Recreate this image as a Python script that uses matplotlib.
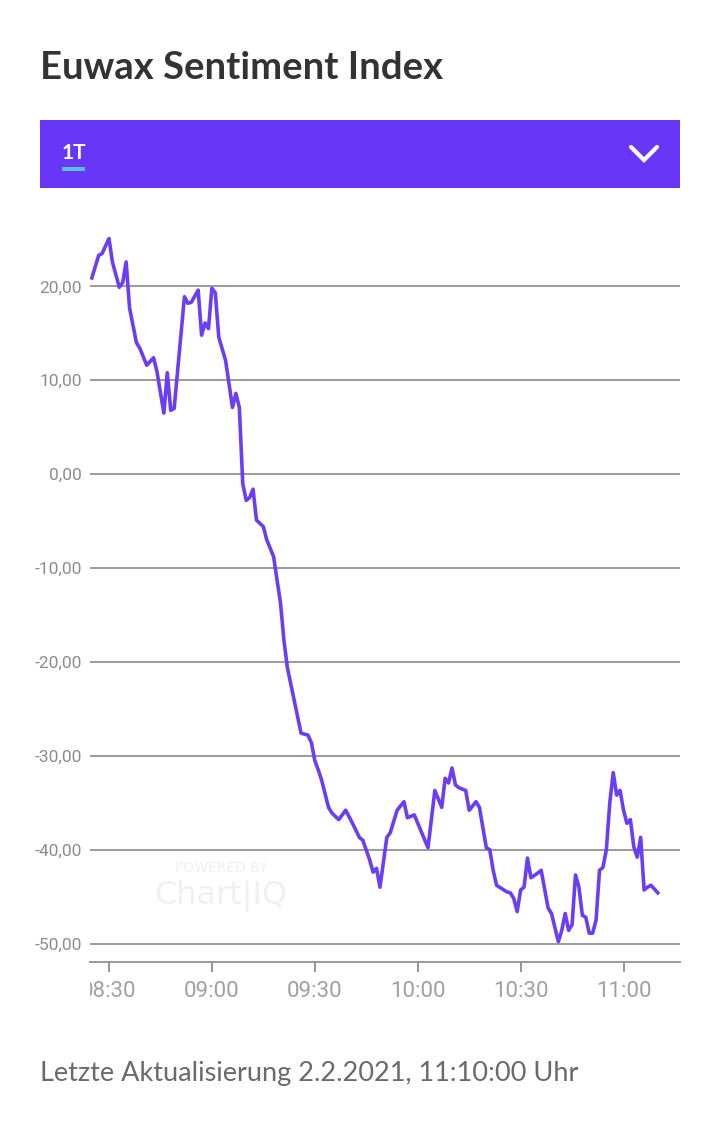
import matplotlib
matplotlib.use("Agg")
import matplotlib.pyplot as plt
import matplotlib.dates as mdates
from matplotlib.ticker import FuncFormatter, FixedLocator
from matplotlib.lines import Line2D
from matplotlib.patches import Rectangle
from matplotlib.transforms import Bbox, TransformedBbox
import pandas as pd

# ---------------- data ----------------
times = ["08:25","08:27","08:28","08:30","08:31","08:33","08:34","08:35","08:36","08:38",
         "08:39","08:41","08:43","08:44","08:46","08:47","08:48","08:49","08:52","08:53",
         "08:54","08:56","08:57","08:58","08:59","09:00","09:01","09:02","09:04","09:06",
         "09:07","09:08","09:09","09:10","09:11","09:12","09:13","09:15","09:16","09:18",
         "09:19","09:20","09:21","09:22","09:24","09:26","09:28","09:29","09:30","09:31",
         "09:32","09:34","09:35","09:37","09:39","09:41","09:43","09:44","09:46","09:47",
         "09:48","09:49","09:51","09:52","09:54","09:56","09:57","09:59","10:03","10:05",
         "10:07","10:08","10:09","10:10","10:11","10:12","10:14","10:15","10:17","10:18",
         "10:20","10:21","10:22","10:23","10:26","10:27","10:28","10:29","10:30","10:31",
         "10:32","10:33","10:35","10:36","10:38","10:39","10:41","10:42","10:43","10:44",
         "10:45","10:46","10:47","10:48","10:49","10:50","10:51","10:52","10:53","10:54",
         "10:55","10:56","10:57","10:58","10:59","11:00","11:01","11:02","11:03","11:04",
         "11:05","11:06","11:07","11:08","11:10"]
sentiment = [20.9, 23.3, 23.5, 25.1, 22.6, 19.9, 20.4, 22.6, 17.7, 14.0,
             13.4, 11.6, 12.4, 10.9, 6.5, 10.8, 6.8, 7.0, 18.9, 18.2,
             18.3, 19.6, 14.8, 16.1, 15.5, 19.8, 19.3, 14.6, 12.1, 7.1,
             8.6, 7.1, -1.0, -2.8, -2.5, -1.6, -4.9, -5.6, -7.0, -8.8,
             -11.3, -13.7, -17.7, -20.6, -24.1, -27.6, -27.8, -28.6, -30.5, -31.5,
             -32.6, -35.5, -36.1, -36.8, -35.8, -37.2, -38.7, -39.0, -41.1, -42.4,
             -42.0, -44.0, -38.7, -38.2, -35.8, -34.9, -36.6, -36.3, -39.8, -33.7,
             -35.5, -32.4, -32.9, -31.3, -33.1, -33.4, -33.7, -35.8, -34.9, -35.5,
             -39.8, -40.0, -42.2, -43.8, -44.5, -44.6, -45.2, -46.6, -44.3, -44.0,
             -40.9, -43.0, -42.5, -42.2, -46.2, -46.8, -49.8, -48.6, -46.8, -48.6,
             -48.0, -42.7, -44.0, -47.0, -47.2, -48.9, -48.9, -47.5, -42.2, -41.9,
             -40.0, -35.0, -31.8, -34.2, -33.7, -35.8, -37.2, -36.8, -39.7, -40.8,
             -38.7, -44.3, -44.0, -43.8, -44.6]
date = "2021-02-02"
x_ticks = ["08:30", "09:00", "09:30", "10:00", "10:30", "11:00"]
y_ticks = [-50, -40, -30, -20, -10, 0, 10, 20]
title = "Euwax Sentiment Index"
period = "1T"
footer = "Letzte Aktualisierung 2.2.2021, 11:10:00 Uhr"

# ---------------- figure ----------------
W, H = 720, 1129
fig = plt.figure(figsize=(W / 100, H / 100), dpi=100)
fig.patch.set_facecolor("white")

def fx(px):
    return px / W

def fy(py):
    return 1 - py / H

# title
fig.text(fx(40), fy(68), title, family="Lato", weight="bold", fontsize=27.5,
         color="#333333", va="center", ha="left")

# purple band
fig.patches.append(Rectangle((fx(40), fy(188)), fx(680) - fx(40), fy(120) - fy(188),
                             transform=fig.transFigure, facecolor="#6736F7",
                             edgecolor="none", zorder=0))
fig.text(fx(62), fy(153), period, family="Lato", weight="bold", fontsize=15,
         color="white", va="center", ha="left")
fig.patches.append(Rectangle((fx(62), fy(171)), fx(85) - fx(62), fy(167) - fy(171),
                             transform=fig.transFigure, facecolor="#55C1F5",
                             edgecolor="none", zorder=1))
fig.lines.append(Line2D([fx(631), fx(644), fx(657)], [fy(147), fy(160), fy(147)],
                        transform=fig.transFigure, color="white", lw=3.0,
                        solid_capstyle="round", solid_joinstyle="miter"))

# watermark
fig.text(fx(221), fy(868), "POWERED BY", family="DejaVu Sans", fontsize=10,
         color="#f0f0f0", ha="center", va="center")
fig.text(fx(221), fy(896), "Chart|IQ", family="DejaVu Sans", fontsize=23,
         color="#f0f0f0", ha="center", va="center")

# axes
ax = fig.add_axes([fx(90), fy(962), fx(680) - fx(90), fy(200) - fy(962)])
ax.set_facecolor("none")
tt = pd.to_datetime([f"{date} {t}" for t in times])
ax.plot(tt, sentiment, color="#6B3DF5", lw=2.6, solid_joinstyle="round", zorder=3)

ax.set_xlim(pd.Timestamp(f"{date} 08:24:28"), pd.Timestamp(f"{date} 11:16:28"))
ax.set_ylim(-51.97, 29.2)

ax.yaxis.set_major_locator(FixedLocator(y_ticks))
ax.yaxis.set_major_formatter(FuncFormatter(lambda v, p: f"{v:.2f}".replace(".", ",")))
ax.grid(axis="y", color="#9a9a9a", lw=1.4)
ax.grid(axis="x", visible=False)
ax.tick_params(axis="y", length=0, pad=6, labelsize=12.5, labelcolor="#8c8c8c")
for lab in ax.get_yticklabels():
    lab.set_family("Roboto")

xt = pd.to_datetime([f"{date} {t}" for t in x_ticks])
ax.xaxis.set_major_locator(FixedLocator(mdates.date2num(xt)))
ax.xaxis.set_major_formatter(mdates.DateFormatter("%H:%M"))
ax.tick_params(axis="x", length=7, width=1.3, color="#8c8c8c", pad=7,
               labelsize=16, labelcolor="#a0a0a0")

for s in ["top", "left", "right"]:
    ax.spines[s].set_visible(False)
ax.spines["bottom"].set_color("#9a9a9a")
ax.spines["bottom"].set_linewidth(1.4)

clip = TransformedBbox(Bbox([[fx(90), 0], [1, 1]]), fig.transFigure)
for lab in ax.get_xticklabels():
    lab.set_family("Roboto")
    lab.set_clip_box(clip)
    lab.set_clip_on(True)

# footer
fig.text(fx(40), fy(1073), footer, family="Lato", weight="normal", fontsize=19.5,
         color="#6a6a6a", va="center", ha="left")

fig.savefig("out.png", dpi=100, facecolor="white")
